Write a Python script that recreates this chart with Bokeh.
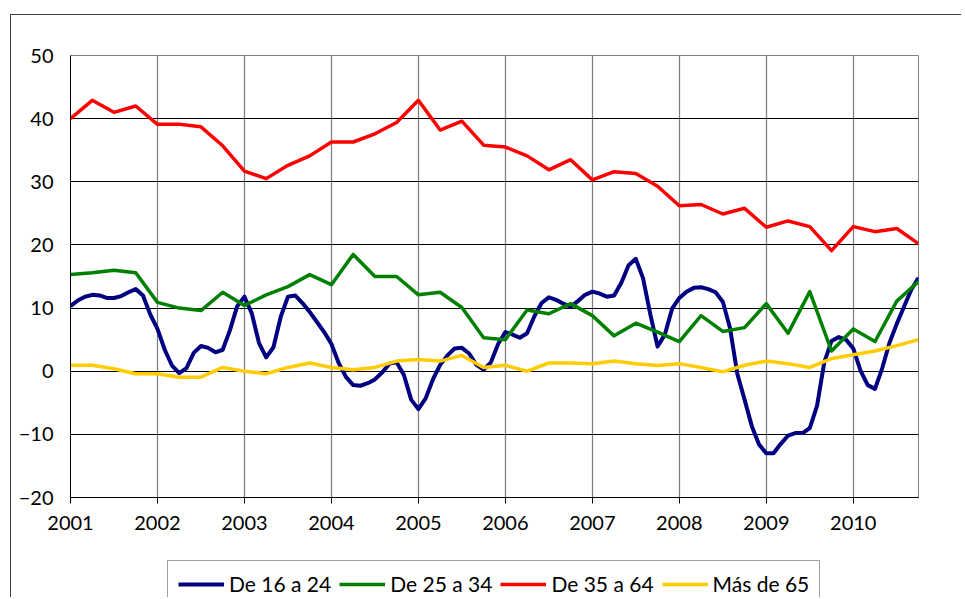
from bokeh.plotting import figure
from bokeh.layouts import column
from bokeh.models import Legend, LegendItem, FixedTicker, Range1d
from bokeh.embed import file_html
from bokeh.resources import INLINE

# ---- data ----
years = [2001, 2002, 2003, 2004, 2005, 2006, 2007, 2008, 2009, 2010]
y_ticks = [-20, -10, 0, 10, 20, 30, 40, 50]
labels = ["De 16 a 24", "De 25 a 34", "De 35 a 64", "Más de 65"]
colors = ["#000080", "#008000", "#FF0000", "#FFCC00"]

# quarterly series, 2001Q1 .. 2010Q4
de_35_64 = [40.0, 42.9, 41.0, 42.0, 39.1, 39.1, 38.7, 35.7, 31.7, 30.5,
            32.6, 34.1, 36.3, 36.3, 37.6, 39.4, 42.9, 38.2, 39.6, 35.8,
            35.5, 34.1, 31.9, 33.5, 30.3, 31.6, 31.3, 29.3, 26.2, 26.4,
            24.9, 25.8, 22.8, 23.8, 22.9, 19.1, 22.9, 22.1, 22.6, 20.2]
de_25_34 = [15.3, 15.6, 16.0, 15.6, 10.9, 10.0, 9.6, 12.5, 10.4, 12.1,
            13.4, 15.3, 13.7, 18.5, 15.0, 15.0, 12.1, 12.5, 10.1, 5.3,
            5.0, 9.7, 9.1, 10.7, 8.8, 5.6, 7.6, 6.2, 4.7, 8.8,
            6.3, 6.9, 10.7, 6.0, 12.6, 3.2, 6.7, 4.7, 11.1, 14.2]
mas_de_65 = [0.95, 0.95, 0.4, -0.4, -0.4, -0.95, -0.95, 0.6, 0.0, -0.4,
             0.6, 1.3, 0.6, 0.25, 0.6, 1.6, 1.85, 1.6, 2.5, 0.6,
             0.95, 0.0, 1.3, 1.3, 1.2, 1.6, 1.2, 0.9, 1.2, 0.6,
             -0.1, 0.95, 1.6, 1.2, 0.6, 2.0, 2.6, 3.2, 4.05, 5.0]
# monthly series, Jan 2001 .. Oct 2010
de_16_24 = [10.3, 11.2, 11.8, 12.1, 12.0, 11.6, 11.6, 11.9, 12.5, 13.0,
            12.0, 9.0, 6.7, 3.4, 0.9, -0.3, 0.5, 2.9, 4.0, 3.7,
            3.0, 3.4, 6.5, 10.3, 11.8, 9.2, 4.5, 2.2, 3.8, 8.6,
            11.8, 12.0, 10.8, 9.4, 7.8, 6.2, 4.3, 1.3, -0.9, -2.2,
            -2.3, -1.9, -1.3, -0.2, 1.2, 1.4, -0.6, -4.5, -6.0, -4.3,
            -1.3, 1.0, 2.5, 3.6, 3.7, 2.8, 1.0, 0.25, 1.4, 4.3,
            6.2, 5.8, 5.3, 6.0, 8.7, 10.8, 11.7, 11.3, 10.7, 10.2,
            11.1, 12.1, 12.6, 12.3, 11.8, 12.0, 14.0, 16.8, 17.8, 14.7,
            9.0, 3.9, 5.8, 9.9, 11.6, 12.6, 13.2, 13.3, 13.0, 12.5,
            11.0, 6.8, -0.4, -4.5, -8.7, -11.6, -13.0, -13.0, -11.5, -10.2,
            -9.8, -9.8, -9.0, -5.5, 1.4, 4.8, 5.4, 5.0, 3.6, 0.1,
            -2.2, -2.8, 0.5, 4.5, 7.5, 10.2, 12.9, 14.8]

xq = [2001 + i / 4 for i in range(len(de_35_64))]
xm = [2001 + m / 12 for m in range(len(de_16_24))]
series = [(xm, de_16_24, 4), (xq, de_25_34, 3.5), (xq, de_35_64, 3.5), (xq, mas_de_65, 3.5)]

FONT = "Lato"

p = figure(width=950, height=532, output_backend="svg", toolbar_location=None,
           x_range=Range1d(2001, 2010.75), y_range=Range1d(-20, 50),
           min_border_left=59, min_border_right=43, min_border_top=40,
           min_border_bottom=50)
p.background_fill_color = "white"
p.border_fill_color = "white"
p.outline_line_color = "#808080"
p.outline_line_width = 1

# axes
p.xaxis.ticker = FixedTicker(ticks=years)
p.yaxis.ticker = FixedTicker(ticks=y_ticks)
for ax in (p.xaxis, p.yaxis):
    ax.axis_line_color = "black"
    ax.axis_line_width = 1
    ax.minor_tick_line_color = None
    ax.major_label_text_font = FONT
    ax.major_label_text_font_size = "20px"
    ax.major_label_text_color = "black"
p.xaxis.major_tick_out = 6
p.xaxis.major_tick_in = 0
p.xaxis.major_tick_line_color = "black"
p.xaxis.major_label_standoff = 12
p.yaxis.major_tick_out = 0
p.yaxis.major_tick_in = 0
p.yaxis.major_label_standoff = 17

# grids
p.ygrid.grid_line_color = "black"
p.ygrid.grid_line_width = 1
p.xgrid.grid_line_color = "#808080"
p.xgrid.grid_line_width = 1.3

# lines
for (xs, ys, lw), col in zip(series, colors):
    p.line(xs, ys, line_color=col, line_width=lw, line_join="round")

# legend strip below the chart (its own small figure; the series lie outside
# its (0,1) ranges, so only the legend samples are visible)
p2 = figure(width=950, height=50, output_backend="svg", toolbar_location=None,
            x_range=Range1d(0, 1), y_range=Range1d(0, 1),
            min_border_left=0, min_border_right=0, min_border_top=0,
            min_border_bottom=0)
p2.axis.visible = False
p2.grid.visible = False
p2.outline_line_color = None
p2.background_fill_color = "white"
p2.border_fill_color = "white"
items = []
for lab, col, (xs, ys, lw) in zip(labels, colors, series):
    r = p2.line(xs, ys, line_color=col, line_width=lw)
    items.append(LegendItem(label=lab, renderers=[r]))

legend = Legend(items=items, orientation="horizontal", location=(97, -10))
legend.label_text_font = FONT
legend.label_text_font_size = "21px"
legend.label_text_color = "black"
legend.glyph_width = 46
legend.glyph_height = 20
legend.label_standoff = 5
legend.spacing = 8
legend.padding = 10
legend.margin = 0
legend.border_line_color = "#404040"
legend.border_line_width = 1
legend.background_fill_color = "white"
legend.background_fill_alpha = 1
p2.add_layout(legend, "center")

layout = column(p, p2, spacing=0,
                styles={"margin-left": "10px", "margin-top": "14px",
                        "border-left": "1px solid #404040",
                        "border-top": "1px solid #404040"})

open("out.html", "w").write(file_html(layout, INLINE))
